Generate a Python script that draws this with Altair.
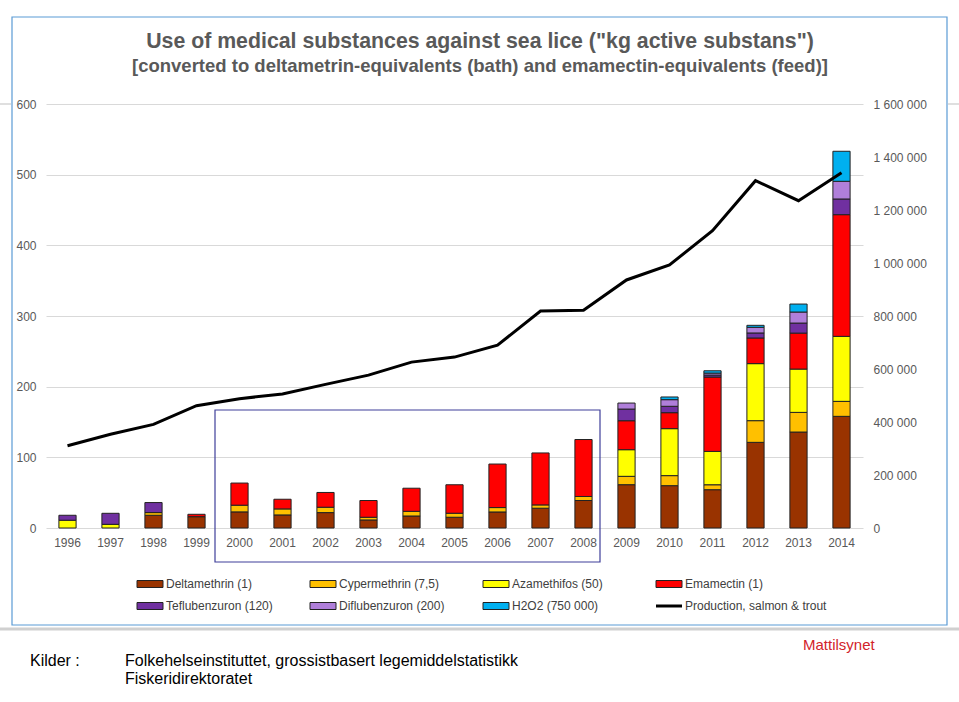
import altair as alt
import pandas as pd

# ---------------- data ----------------
years = ["1996", "1997", "1998", "1999", "2000", "2001", "2002", "2003", "2004", "2005",
         "2006", "2007", "2008", "2009", "2010", "2011", "2012", "2013", "2014"]

substances = ["Deltamethrin (1)", "Cypermethrin (7,5)", "Azamethifos (50)", "Emamectin (1)",
              "Teflubenzuron (120)", "Diflubenzuron (200)", "H2O2 (750 000)"]
colors = ["#993300", "#FFC000", "#FFFF00", "#FF0000", "#7030A0", "#B07FDA", "#00B0F0"]

deltamethrin = [0, 0, 18, 16, 22.8, 18.5, 21.8, 11.4, 17, 15.2, 22.7, 28, 38.9, 61.3, 59.9, 54.2, 121.2, 135.8, 158]
cypermethrin = [0, 0, 3.8, 0, 9.5, 8.5, 7.6, 3.8, 6.6, 5.7, 6.2, 4.7, 5.7, 11.8, 14.2, 7, 30.7, 27.8, 21.2]
azamethifos = [11, 5.2, 0, 0, 0, 0, 0, 0, 0, 0, 0, 0, 0, 37.7, 66.5, 47.2, 80.7, 61.3, 92]
emamectin = [0, 0, 0, 3.4, 31.3, 13.7, 20.9, 23.7, 32.7, 40.3, 61.6, 73.5, 80.6, 41, 22.6, 105.2, 36.3, 50.9, 172.2]
teflubenzuron = [7, 15.6, 14.2, 0, 0, 0, 0, 0, 0, 0, 0, 0, 0, 16.5, 9, 2.8, 7.1, 14.2, 22.2]
diflubenzuron = [0, 0, 0, 0, 0, 0, 0, 0, 0, 0, 0, 0, 0, 8.5, 9.4, 2.8, 8, 15.6, 25]
h2o2 = [0, 0, 0, 0, 0, 0, 0, 0, 0, 0, 0, 0, 0, 0, 3.8, 3.3, 2.8, 11.3, 42.5]

production = [310600, 353600, 391000, 461600, 488000, 505700, 542000, 577000, 626000, 645000,
              690000, 819000, 822000, 936000, 992600, 1122000, 1310700, 1235000, 1341000]
production_label = "Production, salmon & trout"

left_ticks = [0, 100, 200, 300, 400, 500, 600]
right_ticks = [0, 200000, 400000, 600000, 800000, 1000000, 1200000, 1400000, 1600000]

title_text = 'Use of medical substances against sea lice ("kg active substans")'
subtitle_text = "[converted to deltametrin-equivalents (bath) and emamectin-equivalents (feed)]"
source_label = "Kilder :"
source_lines = ["Folkehelseinstituttet, grossistbasert legemiddelstatistikk", "Fiskeridirektoratet"]
logo_text = "Mattilsynet"

# ---------------- tables ----------------
series = [deltamethrin, cypermethrin, azamethifos, emamectin, teflubenzuron, diflubenzuron, h2o2]
rows = []
for k, (name, vals) in enumerate(zip(substances, series)):
    for y, v in zip(years, vals):
        if v > 0:
            rows.append({"year": y, "substance": name, "value": v, "ord": k})
bars_df = pd.DataFrame(rows)
prod_df = pd.DataFrame({"year": years, "production": production})

FONT = "Liberation Sans"
W, H = 817, 424
PL, PT = 46, 104          # plot origin in page pixels
PR, PB = 959 - PL - W, 702 - PT - H

color_scale = alt.Scale(domain=substances, range=colors)
x_enc = alt.X("year:O", sort=years,
              scale=alt.Scale(paddingInner=0.6, paddingOuter=0.3),
              axis=alt.Axis(title=None, labelAngle=0, ticks=False, domain=False,
                            labelPadding=9, labelFontSize=12, labelColor="#595959", labelFont=FONT))

bars = alt.Chart(bars_df).mark_bar(stroke="#222222", strokeWidth=1).encode(
    x=x_enc,
    y=alt.Y("value:Q", stack="zero",
            scale=alt.Scale(domain=[0, 600], nice=False),
            axis=alt.Axis(title=None, values=left_ticks, grid=True, gridColor="#d9d9d9",
                          domain=False, ticks=False, labelPadding=10, labelFontSize=12,
                          labelColor="#595959", labelFont=FONT)),
    color=alt.Color("substance:N", scale=color_scale, legend=None),
    order=alt.Order("ord:Q"),
)

line = alt.Chart(prod_df).mark_line(color="black", strokeWidth=3).encode(
    x=alt.X("year:O", sort=years),
    y=alt.Y("production:Q",
            scale=alt.Scale(domain=[0, 1600000], nice=False),
            axis=alt.Axis(title=None, orient="right", values=right_ticks, grid=False,
                          domain=False, ticks=False, labelPadding=10, labelAlign="left",
                          labelFontSize=12, labelColor="#595959", labelFont=FONT,
                          labelExpr="replace(replace(format(datum.value, ','), ',', ' '), ',', ' ')")),
)

one = pd.DataFrame({"k": [0]})

# outer frame
frame = alt.Chart(one).mark_rect(fillOpacity=0, stroke="#5B9BD5", strokeWidth=1.2).encode(
    x=alt.value(12 - PL), x2=alt.value(947 - PL), y=alt.value(17 - PT), y2=alt.value(625 - PT))

# highlight box around 2000-2008
highlight = alt.Chart(one).mark_rect(fillOpacity=0, stroke="#3F3F9A", strokeWidth=1.2).encode(
    x=alt.value(215 - PL), x2=alt.value(600 - PL), y=alt.value(410 - PT), y2=alt.value(562 - PT))

bottom_bar = alt.Chart(one).mark_rule(color="#D0D0D0", strokeWidth=3).encode(
    x=alt.value(0 - PL), x2=alt.value(959 - PL), y=alt.value(629 - PT))
edge_l = alt.Chart(one).mark_rule(color="#BFBFBF", strokeWidth=1).encode(
    x=alt.value(0 - PL), x2=alt.value(11 - PL), y=alt.value(104 - PT))
edge_r = alt.Chart(one).mark_rule(color="#BFBFBF", strokeWidth=1).encode(
    x=alt.value(948 - PL), x2=alt.value(959 - PL), y=alt.value(104 - PT))

title = alt.Chart(one).mark_text(font=FONT, fontSize=21.3, fontWeight="bold", color="#595959",
                                 align="center", baseline="middle").encode(
    x=alt.value(480 - PL), y=alt.value(42 - PT), text=alt.value(title_text))
subtitle = alt.Chart(one).mark_text(font=FONT, fontSize=18.5, fontWeight="bold", color="#595959",
                                    align="center", baseline="middle").encode(
    x=alt.value(480 - PL), y=alt.value(66 - PT), text=alt.value(subtitle_text))

src1 = alt.Chart(one).mark_text(font=FONT, fontSize=16, color="#000000", align="left",
                                baseline="middle").encode(
    x=alt.value(30 - PL), y=alt.value(661 - PT), text=alt.value(source_label))
src2 = alt.Chart(one).mark_text(font=FONT, fontSize=16, color="#000000", align="left",
                                baseline="middle").encode(
    x=alt.value(125 - PL), y=alt.value(661 - PT), text=alt.value(source_lines[0]))
src3 = alt.Chart(one).mark_text(font=FONT, fontSize=16, color="#000000", align="left",
                                baseline="middle").encode(
    x=alt.value(125 - PL), y=alt.value(679 - PT), text=alt.value(source_lines[1]))
logo = alt.Chart(one).mark_text(font=FONT, fontSize=15, color="#D2232A", align="left",
                                baseline="middle").encode(
    x=alt.value(803 - PL), y=alt.value(645 - PT), text=alt.value(logo_text))

# legend (manual, 4 columns x 2 rows)
leg_rows = []
for i, name in enumerate(substances + [production_label]):
    lx = (137 - PL) + (i % 4) * 173
    ly = (584 - PT) + (i // 4) * 22
    leg_rows.append({"substance": name, "lx": lx, "lx2": lx + 26, "ly": ly,
                     "ly1": ly - 3.5, "ly2": ly + 3.5, "tx": lx + 29, "is_line": name == production_label})
leg_df = pd.DataFrame(leg_rows)

leg_rect = alt.Chart(leg_df).transform_filter("!datum.is_line").mark_rect(
    stroke="#222222", strokeWidth=1).encode(
    x=alt.X("lx:Q", scale=None, axis=None), x2="lx2:Q",
    y=alt.Y("ly1:Q", scale=None, axis=None), y2="ly2:Q",
    color=alt.Color("substance:N", scale=color_scale, legend=None))
leg_line = alt.Chart(leg_df).transform_filter("datum.is_line").mark_rule(
    color="black", strokeWidth=3).encode(
    x=alt.X("lx:Q", scale=None, axis=None), x2="lx2:Q",
    y=alt.Y("ly:Q", scale=None, axis=None))
leg_text = alt.Chart(leg_df).mark_text(font=FONT, fontSize=12, color="#404040", align="left",
                                       baseline="middle").encode(
    x=alt.X("tx:Q", scale=None, axis=None),
    y=alt.Y("ly:Q", scale=None, axis=None),
    text="substance:N")

chart = alt.layer(
    bars, line, frame, highlight, bottom_bar, edge_l, edge_r, title, subtitle,
    src1, src2, src3, logo, leg_rect, leg_line, leg_text
).resolve_scale(y="independent").properties(
    width=W, height=H,
    autosize=alt.AutoSizeParams(type="none"),
    padding={"left": PL, "top": PT, "right": PR, "bottom": PB},
    background="white",
).configure_view(stroke=None)

chart.save("out.html", embed_options={"renderer": "svg", "actions": False})
